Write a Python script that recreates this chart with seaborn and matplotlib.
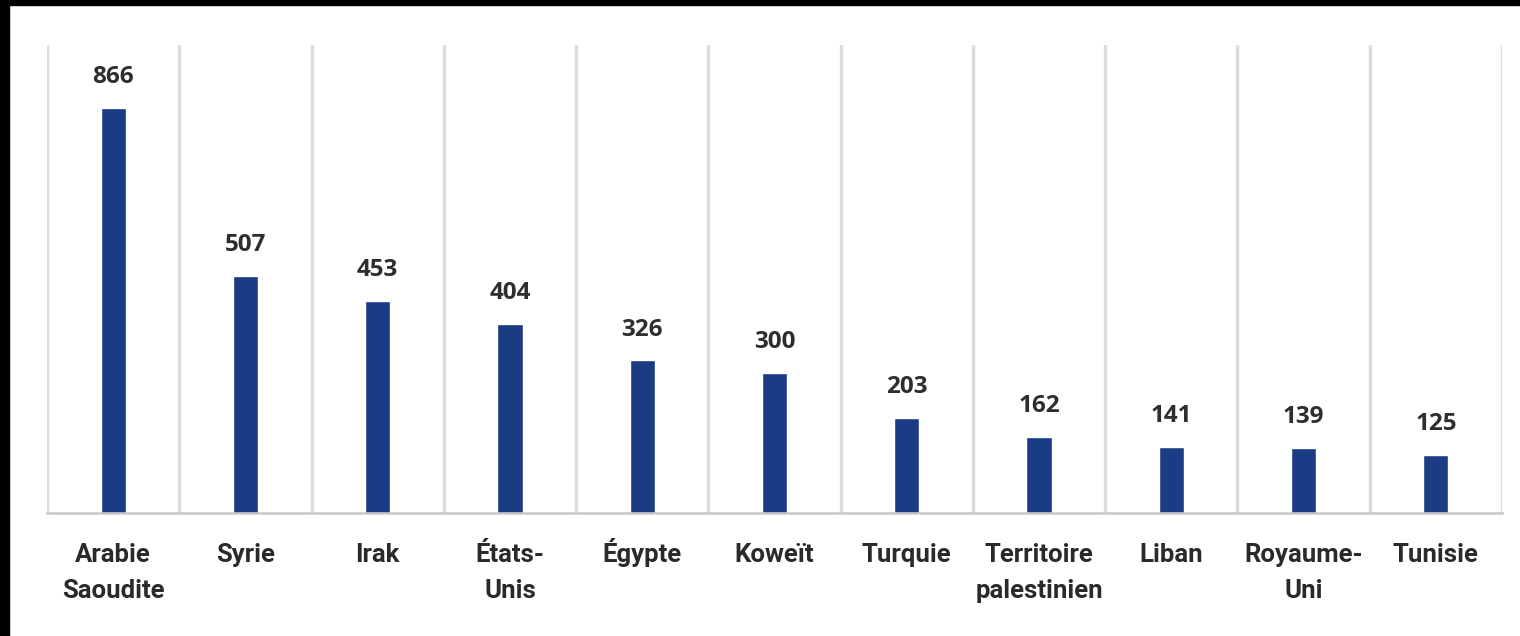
import seaborn as sns
import pandas as pd
import matplotlib.pyplot as plt
from matplotlib.patches import Rectangle

countries = ['Arabie\nSaoudite', 'Syrie', 'Irak', 'États-\nUnis', 'Égypte', 'Koweït',
             'Turquie', 'Territoire\npalestinien', 'Liban', 'Royaume-\nUni', 'Tunisie']
values = [866, 507, 453, 404, 326, 300, 203, 162, 141, 139, 125]

df = pd.DataFrame({'pays': countries, 'valeur': values})

sns.set_style('white')
plt.rcParams['font.family'] = ['Roboto', 'DejaVu Sans']

fig = plt.figure(figsize=(15.2, 6.36), dpi=100)
ax = fig.add_axes([47 / 1520, 123 / 636, 1455 / 1520, 468 / 636])

sns.barplot(data=df, x='pays', y='valeur', color='#1b3c85', width=0.19,
            saturation=1, ax=ax)

ax.set_xlim(-0.5, len(countries) - 0.5)
ax.set_ylim(0, 1000)

# category separators
for i in range(len(countries) + 1):
    ax.axvline(i - 0.5, color='#dcdcdc', lw=2.4, zorder=0)

for s in ['top', 'left', 'right']:
    ax.spines[s].set_visible(False)
ax.spines['bottom'].set_color('#c8c8c8')
ax.spines['bottom'].set_linewidth(1.8)

ax.set_yticks([])
ax.set_xlabel('')
ax.set_ylabel('')
ax.tick_params(axis='x', length=0)
ax.set_xticklabels([])

# category labels, line by line so every first line shares one baseline
for i, name in enumerate(countries):
    for j, line in enumerate(name.split('\n')):
        ax.annotate(line, xy=(i, 0), xycoords=('data', 'axes fraction'),
                    xytext=(0, -35.5 - 25.5 * j), textcoords='offset points',
                    ha='center', va='baseline', fontsize=18.5, fontweight='bold',
                    color='#2a2a2a', annotation_clip=False)

for i, v in enumerate(values):
    ax.text(i, v + 53, str(v), ha='center', va='baseline', fontsize=17.5,
            fontweight='bold', color='#2e2e2e', family=['Open Sans', 'DejaVu Sans'])

# black frame edges from the screenshot
fig.patches.append(Rectangle((0, 1 - 5 / 636), 1, 5 / 636, transform=fig.transFigure,
                             color='black', zorder=10))
fig.patches.append(Rectangle((0, 0), 9 / 1520, 1, transform=fig.transFigure,
                             color='black', zorder=10))

fig.savefig('out.png', dpi=100)
